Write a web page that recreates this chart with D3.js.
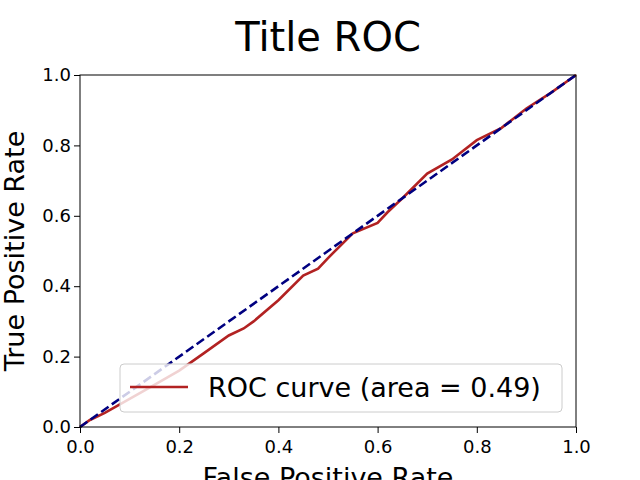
<!DOCTYPE html>
<html><head><meta charset="utf-8">
<script src="https://cdn.jsdelivr.net/npm/d3@7"></script>
<style>body{margin:0;background:#fff}text{font-family:"DejaVu Sans",sans-serif}</style>
</head><body><svg id="c" width="640" height="480"></svg>
<script>
const fpr=[0,0.02,0.05,0.1,0.15,0.2,0.25,0.3,0.33,0.35,0.4,0.45,0.48,0.5,0.55,0.6,0.62,0.65,0.7,0.75,0.8,0.85,0.9,0.95,1];
const tpr=[0,0.02,0.04,0.08,0.12,0.16,0.21,0.26,0.28,0.3,0.36,0.43,0.45,0.48,0.55,0.58,0.61,0.65,0.72,0.76,0.815,0.85,0.905,0.95,1];
const ticks=[0,0.2,0.4,0.6,0.8,1.0];
const svg=d3.select("#c");
const L=80,R=576,T=75,B=427;
const x=d3.scaleLinear().domain([0,1]).range([L,R]);
const y=d3.scaleLinear().domain([0,1]).range([B,T]);
const line=d3.line().x(d=>x(d[0])).y(d=>y(d[1]));
svg.append("path").attr("d",line(fpr.map((f,i)=>[f,tpr[i]]))).attr("fill","none").attr("stroke","#b22222").attr("stroke-width",2.6);
svg.append("path").attr("d",line([[0,0],[1,1]])).attr("fill","none").attr("stroke","#000080").attr("stroke-width",2.6).attr("stroke-dasharray","9,4");
svg.append("rect").attr("x",L).attr("y",T).attr("width",R-L).attr("height",B-T).attr("fill","none").attr("stroke","#000");
const xa=svg.append("g").attr("transform",`translate(0,${B})`).call(d3.axisBottom(x).tickValues(ticks).tickFormat(d3.format(".1f")).tickSizeOuter(0));
const ya=svg.append("g").attr("transform",`translate(${L},0)`).call(d3.axisLeft(y).tickValues(ticks).tickFormat(d3.format(".1f")).tickSizeOuter(0));
[xa,ya].forEach(a=>{a.select(".domain").remove();a.selectAll("text").attr("font-size",18).attr("font-family","DejaVu Sans").attr("fill","#000");a.selectAll("line").attr("stroke","#000");});
xa.selectAll("text").attr("dy","0.95em");
svg.append("text").attr("x",(L+R)/2).attr("y",51).attr("text-anchor","middle").attr("font-size",40).text("Title ROC");
svg.append("text").attr("x",(L+R)/2).attr("y",487).attr("text-anchor","middle").attr("font-size",27).text("False Positive Rate");
svg.append("text").attr("transform",`translate(24,${(T+B)/2}) rotate(-90)`).attr("text-anchor","middle").attr("font-size",27).text("True Positive Rate");
const lg=svg.append("g");
lg.append("rect").attr("x",120).attr("y",364).attr("width",442).attr("height",48).attr("rx",4).attr("fill","rgba(255,255,255,0.8)").attr("stroke","#ccc");
lg.append("line").attr("x1",130).attr("x2",188).attr("y1",387).attr("y2",387).attr("stroke","#b22222").attr("stroke-width",2.6);
lg.append("text").attr("x",208).attr("y",397).attr("font-size",27).text("ROC curve (area = 0.49)");
</script></body></html>
